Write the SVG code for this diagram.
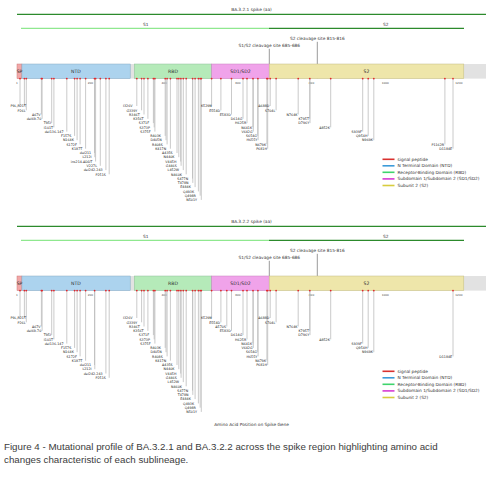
<svg xmlns="http://www.w3.org/2000/svg" width="500" height="486" viewBox="0 0 500 486">
<style>
text{font-family:"DejaVu Sans",sans-serif;fill:#333}
.ttl{font-size:4.3px;text-anchor:middle}
.dl{font-size:4.6px;text-anchor:middle}
.tk{font-size:2.8px;text-anchor:middle;fill:#444}
.mt{font-size:3.3px;text-anchor:end;fill:#222}
.lg{font-size:4.3px}
.ml{stroke:#bdbdbd;stroke-width:0.8}
.md{fill:#e3262b}
.cl{stroke:#555;stroke-width:0.6}
.gl{stroke:#2c8a2c;stroke-width:1.3}
.s1{stroke:#8fe88f;stroke-width:1.3}
.dom{stroke-width:0.5}
.cap{font-family:"Liberation Sans",Arial,sans-serif;font-size:9.75px;fill:#3c3c3c}
.l2{transform:translateX(-2.5px)}
.r3{transform:translateX(-3.5px)}
</style>
<defs>
<g id="bar">
<rect x="17" y="0" width="469" height="14.6" fill="#e2e2e2"/>
<rect class="dom" x="17" y="0" width="4.9" height="14.6" fill="#f2a7a7" stroke="#cc7b7b"/>
<rect class="dom" x="21.9" y="0" width="108.3" height="14.6" fill="#acd3ee" stroke="#86aac3"/>
<rect class="dom" x="134.3" y="0" width="77.4" height="14.6" fill="#b5eab9" stroke="#8fc09a"/>
<rect class="dom" x="211.7" y="0" width="57.5" height="14.6" fill="#f0a3ea" stroke="#c681c0"/>
<rect class="dom" x="269.2" y="0" width="194.6" height="14.6" fill="#eee6aa" stroke="#c4bd83"/>
<text class="dl" x="19.5" y="9">SP</text>
<text class="dl" x="76" y="9">NTD</text>
<text class="dl" x="173" y="9">RBD</text>
<text class="dl" x="240.5" y="9">SD1/SD2</text>
<text class="dl" x="366.5" y="9">S2</text>
<text class="tk" x="17" y="20">1</text>
<text class="tk" x="90.4" y="20">200</text>
<text class="tk" x="164.1" y="20">400</text>
<text class="tk" x="237.8" y="20">600</text>
<text class="tk" x="311.5" y="20">800</text>
<text class="tk" x="385.2" y="20">1000</text>
<text class="tk" x="458.9" y="20">1200</text>
</g>
<g id="hdr">
<line class="gl" x1="17" y1="0" x2="486" y2="0"/>
<line class="s1" x1="21" y1="14" x2="269" y2="14"/>
<line class="gl" x1="269" y1="14" x2="464" y2="14"/>
<text class="ttl" x="145.7" y="11.5">S1</text>
<text class="ttl" x="385.7" y="11.5">S2</text>
<text class="ttl" x="317.3" y="26.2">S2 cleavage site 815-816</text>
<text class="ttl" x="269.3" y="33.2">S1/S2 cleavage site 685-686</text>
<line class="cl" x1="317.3" y1="27.5" x2="317.3" y2="64.3"/>
<line class="cl" x1="269.3" y1="34.5" x2="269.3" y2="64.3"/>
</g>
<g id="leg">
<line x1="382.5" y1="0" x2="394.5" y2="0" stroke="#d9312f" stroke-width="1.6"/>
<line x1="382.5" y1="6.5" x2="394.5" y2="6.5" stroke="#3d9bd9" stroke-width="1.6"/>
<line x1="382.5" y1="13" x2="394.5" y2="13" stroke="#3fd46c" stroke-width="1.6"/>
<line x1="382.5" y1="19.6" x2="394.5" y2="19.6" stroke="#d63ad3" stroke-width="1.6"/>
<line x1="382.5" y1="26.2" x2="394.5" y2="26.2" stroke="#d8cc3e" stroke-width="1.6"/>
<text class="lg" x="397.5" y="1.5">signal peptide</text>
<text class="lg" x="397.5" y="8">N Terminal Domain (NTD)</text>
<text class="lg" x="397.5" y="14.5">Receptor-Binding Domain (RBD)</text>
<text class="lg" x="397.5" y="21.1">Subdomain 1/Subdomain 2 (SD1/SD2)</text>
<text class="lg" x="397.5" y="27.7">Subunit 2 (S2)</text>
</g>
</defs>

<g id="panel-BA.3.2.1">
<text class="ttl" x="251.5" y="10.5">BA.3.2.1 spike (aa)</text>
<use href="#hdr" transform="translate(0,14.3)"/>
<g id="bar1"><use href="#bar" transform="translate(0,64)"/></g>
<g id="legend1"><use href="#leg" transform="translate(0,159.3)"/></g>
<g id="connectors1" class="ml">
<line x1="20" y1="79" x2="20" y2="106"/><line x1="24.4" y1="79" x2="24.4" y2="106"/>
<line x1="26.3" y1="79" x2="26.3" y2="110.3"/><line x1="41.4" y1="79" x2="41.4" y2="114.5"/>
<line x1="42.1" y1="79" x2="42.1" y2="118.8"/><line x1="51.7" y1="79" x2="51.7" y2="123.1"/>
<line x1="53.9" y1="79" x2="53.9" y2="127.4"/><line x1="66.8" y1="79" x2="66.8" y2="131.6"/>
<line x1="74.6" y1="79" x2="74.6" y2="135.9"/><line x1="77.1" y1="79" x2="77.1" y2="140.2"/>
<line x1="80.1" y1="79" x2="80.1" y2="144.4"/><line x1="85.6" y1="79" x2="85.6" y2="148.7"/>
<line x1="94.5" y1="79" x2="94.5" y2="153"/><line x1="94.8" y1="79" x2="94.8" y2="157.2"/>
<line x1="95.6" y1="79" x2="95.6" y2="161.5"/><line x1="100.3" y1="79" x2="100.3" y2="165.8"/>
<line x1="105.9" y1="79" x2="105.9" y2="170.1"/><line x1="109.2" y1="79" x2="109.2" y2="174.3"/>
<line x1="136.8" y1="79" x2="136.8" y2="106"/><line x1="141.6" y1="79" x2="141.6" y2="110.3"/>
<line x1="144" y1="79" x2="144" y2="114.5"/><line x1="147.9" y1="79" x2="147.9" y2="118.8"/>
<line x1="153.4" y1="79" x2="153.4" y2="123.1"/><line x1="154.2" y1="79" x2="154.2" y2="127.4"/>
<line x1="154.9" y1="79" x2="154.9" y2="131.6"/><line x1="165.2" y1="79" x2="165.2" y2="135.9"/>
<line x1="166" y1="79" x2="166" y2="140.2"/><line x1="167.1" y1="79" x2="167.1" y2="144.4"/>
<line x1="170.4" y1="79" x2="170.4" y2="148.7"/><line x1="177" y1="79" x2="177" y2="153"/>
<line x1="178.8" y1="79" x2="178.8" y2="157.2"/><line x1="180.7" y1="79" x2="180.7" y2="161.5"/>
<line x1="181.1" y1="79" x2="181.1" y2="165.8"/><line x1="183.3" y1="79" x2="183.3" y2="170.1"/>
<line x1="186.2" y1="79" x2="186.2" y2="174.3"/><line x1="192.5" y1="79" x2="192.5" y2="178.6"/>
<line x1="192.8" y1="79" x2="192.8" y2="182.9"/><line x1="195.1" y1="79" x2="195.1" y2="187.1"/>
<line x1="198.4" y1="79" x2="198.4" y2="191.4"/><line x1="200.2" y1="79" x2="200.2" y2="195.7"/>
<line x1="201.3" y1="79" x2="201.3" y2="199.9"/>
<line x1="211.6" y1="79" x2="211.6" y2="106"/><line x1="220.9" y1="79" x2="220.9" y2="110.3"/>
<line x1="231.5" y1="79" x2="231.5" y2="114.5"/><line x1="243" y1="79" x2="243" y2="118.8"/>
<line x1="247" y1="79" x2="247" y2="123.1"/><line x1="252.9" y1="79" x2="252.9" y2="127.4"/>
<line x1="253.3" y1="79" x2="253.3" y2="131.6"/><line x1="257.7" y1="79" x2="257.7" y2="135.9"/>
<line x1="258.1" y1="79" x2="258.1" y2="140.2"/><line x1="266.9" y1="79" x2="266.9" y2="144.4"/>
<line x1="267.7" y1="79" x2="267.7" y2="148.7"/>
<line x1="270.2" y1="79" x2="270.2" y2="106"/><line x1="276.1" y1="79" x2="276.1" y2="110.3"/>
<line x1="298.2" y1="79" x2="298.2" y2="114.5"/><line x1="309.7" y1="79" x2="309.7" y2="118.8"/>
<line x1="310" y1="79" x2="310" y2="123.1"/><line x1="330.7" y1="79" x2="330.7" y2="127.4"/>
<line x1="362.7" y1="79" x2="362.7" y2="131.6"/><line x1="368.2" y1="79" x2="368.2" y2="135.9"/>
<line x1="373.8" y1="79" x2="373.8" y2="140.2"/><line x1="444.9" y1="79" x2="444.9" y2="144.4"/>
<line x1="453" y1="79" x2="453" y2="148.7"/>
</g>
<g id="dots1" class="md">
<circle cx="20" cy="78.6" r="0.9"/><circle cx="24.4" cy="78.6" r="0.9"/><circle cx="26.3" cy="78.6" r="0.9"/><circle cx="41.4" cy="78.6" r="0.9"/><circle cx="42.1" cy="78.6" r="0.9"/><circle cx="51.7" cy="78.6" r="0.9"/><circle cx="53.9" cy="78.6" r="0.9"/><circle cx="66.8" cy="78.6" r="0.9"/><circle cx="74.6" cy="78.6" r="0.9"/><circle cx="77.1" cy="78.6" r="0.9"/><circle cx="80.1" cy="78.6" r="0.9"/><circle cx="85.6" cy="78.6" r="0.9"/><circle cx="94.5" cy="78.6" r="0.9"/><circle cx="95.6" cy="78.6" r="0.9"/><circle cx="100.3" cy="78.6" r="0.9"/><circle cx="105.9" cy="78.6" r="0.9"/><circle cx="109.2" cy="78.6" r="0.9"/>
<circle cx="136.8" cy="78.6" r="0.9"/><circle cx="141.6" cy="78.6" r="0.9"/><circle cx="144" cy="78.6" r="0.9"/><circle cx="147.9" cy="78.6" r="0.9"/><circle cx="153.4" cy="78.6" r="0.9"/><circle cx="154.9" cy="78.6" r="0.9"/><circle cx="165.2" cy="78.6" r="0.9"/><circle cx="167.1" cy="78.6" r="0.9"/><circle cx="170.4" cy="78.6" r="0.9"/><circle cx="177" cy="78.6" r="0.9"/><circle cx="178.8" cy="78.6" r="0.9"/><circle cx="180.9" cy="78.6" r="0.9"/><circle cx="183.3" cy="78.6" r="0.9"/><circle cx="186.2" cy="78.6" r="0.9"/><circle cx="192.6" cy="78.6" r="0.9"/><circle cx="195.1" cy="78.6" r="0.9"/><circle cx="198.4" cy="78.6" r="0.9"/><circle cx="200.2" cy="78.6" r="0.9"/><circle cx="201.3" cy="78.6" r="0.9"/>
<circle cx="211.6" cy="78.6" r="0.9"/><circle cx="220.9" cy="78.6" r="0.9"/><circle cx="231.5" cy="78.6" r="0.9"/><circle cx="243" cy="78.6" r="0.9"/><circle cx="247" cy="78.6" r="0.9"/><circle cx="253" cy="78.6" r="0.9"/><circle cx="257.9" cy="78.6" r="0.9"/><circle cx="266.9" cy="78.6" r="0.9"/><circle cx="267.7" cy="78.6" r="0.9"/>
<circle cx="270.2" cy="78.6" r="0.9"/><circle cx="276.1" cy="78.6" r="0.9"/><circle cx="298.2" cy="78.6" r="0.9"/><circle cx="309.8" cy="78.6" r="0.9"/><circle cx="330.7" cy="78.6" r="0.9"/><circle cx="362.7" cy="78.6" r="0.9"/><circle cx="368.2" cy="78.6" r="0.9"/><circle cx="373.8" cy="78.6" r="0.9"/><circle cx="444.9" cy="78.6" r="0.9"/><circle cx="453" cy="78.6" r="0.9"/>
</g>
<g id="labels1" class="mt">
<text x="26" y="107.2" class="mt">P9L,R21T</text>
<text x="25.5" y="111.5" class="mt">P26L</text>
<text x="40.6" y="115.7" class="mt">A67V</text>
<text x="41.3" y="120" class="mt">del69-70</text>
<text x="50.9" y="124.3" class="mt">T95I</text>
<text x="53.1" y="128.6" class="mt">I101T</text>
<g class="l2">
<text x="66" y="132.8" class="mt">del136-147</text>
<text x="73.8" y="137.1" class="mt">F157S</text>
<text x="76.3" y="141.4" class="mt">N164K</text>
<text x="79.3" y="145.6" class="mt">S172F</text>
<text x="84.8" y="149.9" class="mt">K187T</text>
<text x="93.7" y="154.2" class="mt">del211</text>
<text x="94" y="158.4" class="mt">L212I</text>
<text x="94.8" y="162.7" class="mt">ins214-ADDT</text>
<text x="99.5" y="167" class="mt">V227L</text>
<text x="105.1" y="171.3" class="mt">del242-243</text>
<text x="108.4" y="175.5" class="mt">P251S</text>
</g>
<g class="r3">
<text x="136" y="107.2" class="mt">I326V</text>
<text x="140.8" y="111.5" class="mt">G339Y</text>
<text x="143.2" y="115.7" class="mt">R346T</text>
<text x="147.1" y="120" class="mt">K356T</text>
<text x="152.6" y="124.3" class="mt">S371F</text>
<text x="153.4" y="128.6" class="mt">S373P</text>
<text x="154.1" y="132.8" class="mt">S375F</text>
<text x="164.4" y="137.1" class="mt">R403K</text>
<text x="165.2" y="141.4" class="mt">D405N</text>
<text x="166.3" y="145.6" class="mt">R408S</text>
<text x="169.6" y="149.9" class="mt">K417N</text>
<text x="176.2" y="154.2" class="mt">A435S</text>
<text x="178" y="158.4" class="mt">N440K</text>
<text x="179.9" y="162.7" class="mt">V445H</text>
<text x="180.3" y="167" class="mt">G446S</text>
<text x="182.5" y="171.3" class="mt">L452W</text>
<text x="185.4" y="175.5" class="mt">N460K</text>
<text x="191.7" y="179.8" class="mt">S477N</text>
<text x="192" y="184.1" class="mt">T478N</text>
<text x="194.3" y="188.3" class="mt">E484K</text>
<text x="197.6" y="192.6" class="mt">Q493K</text>
<text x="199.4" y="196.9" class="mt">Q498R</text>
<text x="200.5" y="201.1" class="mt">N501Y</text>
</g>
<text x="211.8" y="107.2" class="mt">K529N</text>
<text x="220.1" y="111.5" class="mt">E554D</text>
<text x="230.7" y="115.7" class="mt">E583D</text>
<text x="242.2" y="120" class="mt">D614G</text>
<text x="246.2" y="124.3" class="mt">H625R</text>
<text x="252.1" y="128.6" class="mt">N641K</text>
<text x="252.5" y="132.8" class="mt">V642G</text>
<text x="256.9" y="137.1" class="mt">S654G</text>
<text x="257.3" y="141.4" class="mt">H655Y</text>
<text x="266.1" y="145.6" class="mt">N679K</text>
<text x="266.9" y="149.9" class="mt">P681H</text>
<text x="269.4" y="107.2" class="mt">A688D</text>
<text x="275.3" y="111.5" class="mt">S704L</text>
<text x="297.4" y="115.7" class="mt">N764K</text>
<text x="308.9" y="120" class="mt">K795T</text>
<text x="309.2" y="124.3" class="mt">D796Y</text>
<text x="329.9" y="128.6" class="mt">A852K</text>
<text x="361.9" y="132.8" class="mt">S939F</text>
<text x="367.4" y="137.1" class="mt">Q954H</text>
<text x="373" y="141.4" class="mt">N969K</text>
<text x="444.1" y="145.6" class="mt">P1162R</text>
<text x="452.2" y="149.9" class="mt">D1184E</text>
</g>
</g>

<g id="panel-BA.3.2.2">
<text class="ttl" x="251.5" y="222.5">BA.3.2.2 spike (aa)</text>
<use href="#hdr" transform="translate(0,226.3)"/>
<g id="bar2"><use href="#bar" transform="translate(0,276)"/></g>
<g id="legend2"><use href="#leg" transform="translate(0,371.3)"/></g>
<g id="connectors2" class="ml">
<line x1="20" y1="291" x2="20" y2="318"/><line x1="24.4" y1="291" x2="24.4" y2="318"/>
<line x1="26.3" y1="291" x2="26.3" y2="322.3"/><line x1="41.4" y1="291" x2="41.4" y2="326.5"/>
<line x1="42.1" y1="291" x2="42.1" y2="330.8"/><line x1="51.7" y1="291" x2="51.7" y2="335.1"/>
<line x1="53.9" y1="291" x2="53.9" y2="339.4"/><line x1="66.8" y1="291" x2="66.8" y2="343.6"/>
<line x1="74.6" y1="291" x2="74.6" y2="347.9"/><line x1="77.1" y1="291" x2="77.1" y2="352.2"/>
<line x1="80.1" y1="291" x2="80.1" y2="356.4"/><line x1="85.6" y1="291" x2="85.6" y2="360.7"/>
<line x1="94.5" y1="291" x2="94.5" y2="365"/><line x1="94.8" y1="291" x2="94.8" y2="369.2"/>
<line x1="105.9" y1="291" x2="105.9" y2="373.5"/><line x1="109.2" y1="291" x2="109.2" y2="377.8"/>
<line x1="136.8" y1="291" x2="136.8" y2="318"/><line x1="141.6" y1="291" x2="141.6" y2="322.3"/>
<line x1="144" y1="291" x2="144" y2="326.5"/><line x1="147.9" y1="291" x2="147.9" y2="330.8"/>
<line x1="153.4" y1="291" x2="153.4" y2="335.1"/><line x1="154.2" y1="291" x2="154.2" y2="339.4"/>
<line x1="154.9" y1="291" x2="154.9" y2="343.6"/><line x1="165.2" y1="291" x2="165.2" y2="347.9"/>
<line x1="166" y1="291" x2="166" y2="352.2"/><line x1="167.1" y1="291" x2="167.1" y2="356.4"/>
<line x1="170.4" y1="291" x2="170.4" y2="360.7"/><line x1="177" y1="291" x2="177" y2="365"/>
<line x1="178.8" y1="291" x2="178.8" y2="369.2"/><line x1="180.7" y1="291" x2="180.7" y2="373.5"/>
<line x1="181.1" y1="291" x2="181.1" y2="377.8"/><line x1="183.3" y1="291" x2="183.3" y2="382.1"/>
<line x1="186.2" y1="291" x2="186.2" y2="386.3"/><line x1="192.5" y1="291" x2="192.5" y2="390.6"/>
<line x1="192.8" y1="291" x2="192.8" y2="394.9"/><line x1="195.1" y1="291" x2="195.1" y2="399.1"/>
<line x1="198.4" y1="291" x2="198.4" y2="403.4"/><line x1="200.2" y1="291" x2="200.2" y2="407.7"/>
<line x1="201.3" y1="291" x2="201.3" y2="411.9"/>
<line x1="211.6" y1="291" x2="211.6" y2="318"/><line x1="220.9" y1="291" x2="220.9" y2="322.3"/>
<line x1="226.8" y1="291" x2="226.8" y2="326.5"/><line x1="231.5" y1="291" x2="231.5" y2="330.8"/>
<line x1="243" y1="291" x2="243" y2="335.1"/><line x1="247" y1="291" x2="247" y2="339.4"/>
<line x1="252.9" y1="291" x2="252.9" y2="343.6"/><line x1="253.3" y1="291" x2="253.3" y2="347.9"/>
<line x1="257.7" y1="291" x2="257.7" y2="352.2"/><line x1="258.1" y1="291" x2="258.1" y2="356.4"/>
<line x1="266.9" y1="291" x2="266.9" y2="360.7"/><line x1="267.7" y1="291" x2="267.7" y2="365"/>
<line x1="270.2" y1="291" x2="270.2" y2="318"/><line x1="276.1" y1="291" x2="276.1" y2="322.3"/>
<line x1="298.2" y1="291" x2="298.2" y2="326.5"/><line x1="309.7" y1="291" x2="309.7" y2="330.8"/>
<line x1="310" y1="291" x2="310" y2="335.1"/><line x1="330.7" y1="291" x2="330.7" y2="339.4"/>
<line x1="362.7" y1="291" x2="362.7" y2="343.6"/><line x1="368.2" y1="291" x2="368.2" y2="347.9"/>
<line x1="373.8" y1="291" x2="373.8" y2="352.2"/><line x1="453" y1="291" x2="453" y2="356.4"/>
</g>
<g id="dots2" class="md">
<circle cx="20" cy="290.6" r="0.9"/><circle cx="24.4" cy="290.6" r="0.9"/><circle cx="26.3" cy="290.6" r="0.9"/><circle cx="41.4" cy="290.6" r="0.9"/><circle cx="42.1" cy="290.6" r="0.9"/><circle cx="51.7" cy="290.6" r="0.9"/><circle cx="53.9" cy="290.6" r="0.9"/><circle cx="66.8" cy="290.6" r="0.9"/><circle cx="74.6" cy="290.6" r="0.9"/><circle cx="77.1" cy="290.6" r="0.9"/><circle cx="80.1" cy="290.6" r="0.9"/><circle cx="85.6" cy="290.6" r="0.9"/><circle cx="94.6" cy="290.6" r="0.9"/><circle cx="105.9" cy="290.6" r="0.9"/><circle cx="109.2" cy="290.6" r="0.9"/>
<circle cx="136.8" cy="290.6" r="0.9"/><circle cx="141.6" cy="290.6" r="0.9"/><circle cx="144" cy="290.6" r="0.9"/><circle cx="147.9" cy="290.6" r="0.9"/><circle cx="153.4" cy="290.6" r="0.9"/><circle cx="154.9" cy="290.6" r="0.9"/><circle cx="165.2" cy="290.6" r="0.9"/><circle cx="167.1" cy="290.6" r="0.9"/><circle cx="170.4" cy="290.6" r="0.9"/><circle cx="177" cy="290.6" r="0.9"/><circle cx="178.8" cy="290.6" r="0.9"/><circle cx="180.9" cy="290.6" r="0.9"/><circle cx="183.3" cy="290.6" r="0.9"/><circle cx="186.2" cy="290.6" r="0.9"/><circle cx="192.6" cy="290.6" r="0.9"/><circle cx="195.1" cy="290.6" r="0.9"/><circle cx="198.4" cy="290.6" r="0.9"/><circle cx="200.2" cy="290.6" r="0.9"/><circle cx="201.3" cy="290.6" r="0.9"/>
<circle cx="211.6" cy="290.6" r="0.9"/><circle cx="220.9" cy="290.6" r="0.9"/><circle cx="226.8" cy="290.6" r="0.9"/><circle cx="231.5" cy="290.6" r="0.9"/><circle cx="243" cy="290.6" r="0.9"/><circle cx="247" cy="290.6" r="0.9"/><circle cx="253" cy="290.6" r="0.9"/><circle cx="257.9" cy="290.6" r="0.9"/><circle cx="266.9" cy="290.6" r="0.9"/><circle cx="267.7" cy="290.6" r="0.9"/>
<circle cx="270.2" cy="290.6" r="0.9"/><circle cx="276.1" cy="290.6" r="0.9"/><circle cx="298.2" cy="290.6" r="0.9"/><circle cx="309.8" cy="290.6" r="0.9"/><circle cx="330.7" cy="290.6" r="0.9"/><circle cx="362.7" cy="290.6" r="0.9"/><circle cx="368.2" cy="290.6" r="0.9"/><circle cx="373.8" cy="290.6" r="0.9"/><circle cx="453" cy="290.6" r="0.9"/>
</g>
<g id="labels2" class="mt">
<text x="26" y="319.2" class="mt">P9L,R21T</text>
<text x="25.5" y="323.5" class="mt">P26L</text>
<text x="40.6" y="327.7" class="mt">A67V</text>
<text x="41.3" y="332" class="mt">del69-70</text>
<text x="50.9" y="336.3" class="mt">T95I</text>
<text x="53.1" y="340.6" class="mt">I101T</text>
<g class="l2">
<text x="66" y="344.8" class="mt">del136-147</text>
<text x="73.8" y="349.1" class="mt">F157S</text>
<text x="76.3" y="353.4" class="mt">N164K</text>
<text x="79.3" y="357.6" class="mt">S172F</text>
<text x="84.8" y="361.9" class="mt">K187T</text>
<text x="93.7" y="366.2" class="mt">del211</text>
<text x="94" y="370.4" class="mt">L212I</text>
<text x="105.1" y="374.7" class="mt">del242-243</text>
<text x="108.4" y="379" class="mt">P251S</text>
</g>
<g class="r3">
<text x="136" y="319.2" class="mt">I326V</text>
<text x="140.8" y="323.5" class="mt">G339Y</text>
<text x="143.2" y="327.7" class="mt">R346T</text>
<text x="147.1" y="332" class="mt">K356T</text>
<text x="152.6" y="336.3" class="mt">S371F</text>
<text x="153.4" y="340.6" class="mt">S373P</text>
<text x="154.1" y="344.8" class="mt">S375F</text>
<text x="164.4" y="349.1" class="mt">R403K</text>
<text x="165.2" y="353.4" class="mt">D405N</text>
<text x="166.3" y="357.6" class="mt">R408S</text>
<text x="169.6" y="361.9" class="mt">K417N</text>
<text x="176.2" y="366.2" class="mt">A435S</text>
<text x="178" y="370.4" class="mt">N440K</text>
<text x="179.9" y="374.7" class="mt">V445H</text>
<text x="180.3" y="379" class="mt">G446S</text>
<text x="182.5" y="383.3" class="mt">L452W</text>
<text x="185.4" y="387.5" class="mt">N460K</text>
<text x="191.7" y="391.8" class="mt">S477N</text>
<text x="192" y="396.1" class="mt">T478N</text>
<text x="194.3" y="400.3" class="mt">E484K</text>
<text x="197.6" y="404.6" class="mt">Q493K</text>
<text x="199.4" y="408.9" class="mt">Q498R</text>
<text x="200.5" y="413.1" class="mt">N501Y</text>
</g>
<text x="211.8" y="319.2" class="mt">K529N</text>
<text x="220.1" y="323.5" class="mt">E554D</text>
<text x="226" y="327.7" class="mt">A570S</text>
<text x="230.7" y="332" class="mt">E583D</text>
<text x="242.2" y="336.3" class="mt">D614G</text>
<text x="246.2" y="340.6" class="mt">H625R</text>
<text x="252.1" y="344.8" class="mt">N641K</text>
<text x="252.5" y="349.1" class="mt">V642G</text>
<text x="256.9" y="353.4" class="mt">S654G</text>
<text x="257.3" y="357.6" class="mt">H655Y</text>
<text x="266.1" y="361.9" class="mt">N679K</text>
<text x="266.9" y="366.2" class="mt">P681H</text>
<text x="269.4" y="319.2" class="mt">A688D</text>
<text x="275.3" y="323.5" class="mt">S704L</text>
<text x="297.4" y="327.7" class="mt">N764K</text>
<text x="308.9" y="332" class="mt">K795T</text>
<text x="309.2" y="336.3" class="mt">D796Y</text>
<text x="329.9" y="340.6" class="mt">A852K</text>
<text x="361.9" y="344.8" class="mt">S939F</text>
<text x="367.4" y="349.1" class="mt">Q954H</text>
<text x="373" y="353.4" class="mt">N969K</text>
<text x="452.2" y="357.6" class="mt">D1184E</text>
</g>
<text class="ttl" x="251.5" y="425.5">Amino Acid Position on Spike Gene</text>
</g>

<g id="caption">
<text class="cap" x="4" y="450">Figure 4 - Mutational profile of BA.3.2.1 and BA.3.2.2 across the spike region highlighting amino acid</text>
<text class="cap" x="4" y="463">changes characteristic of each sublineage.</text>
</g>
</svg>
